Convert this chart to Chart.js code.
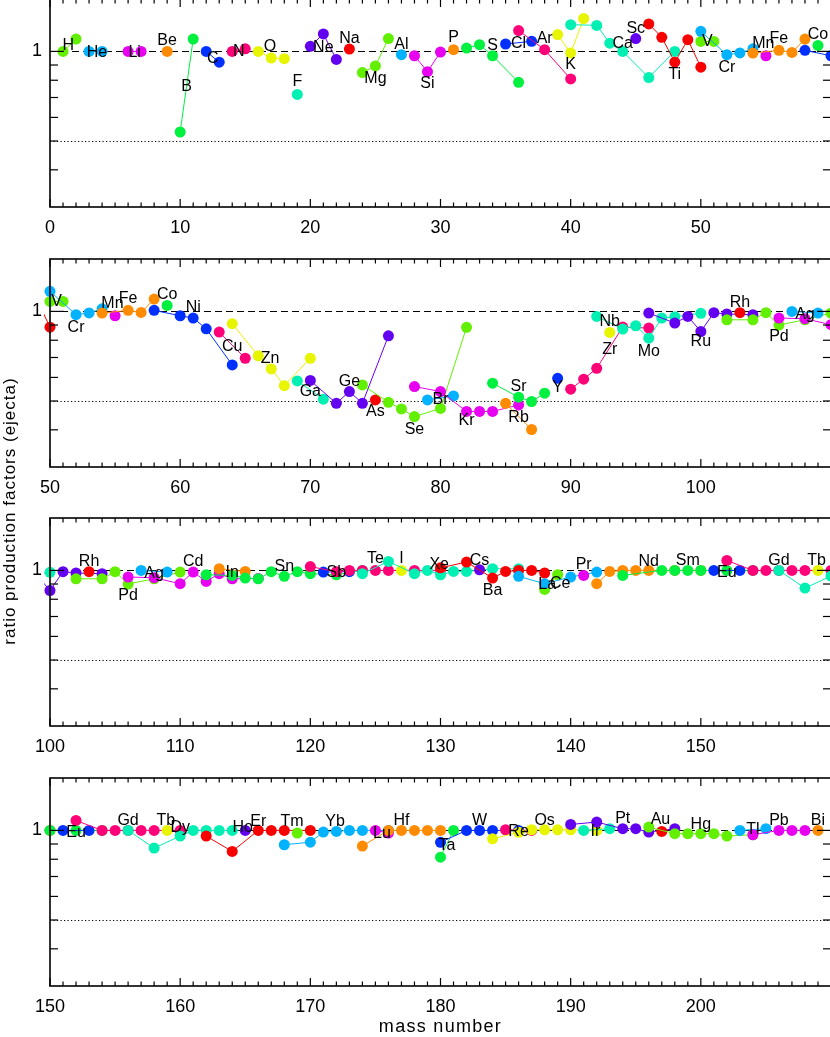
<!DOCTYPE html>
<html>
<head>
<meta charset="utf-8">
<script src="https://cdn.jsdelivr.net/npm/chart.js@4.4.1/dist/chart.umd.min.js"></script>
<style>
  html, body { margin: 0; padding: 0; background: #fff; width: 830px; height: 1037px; overflow: hidden; }
  canvas { position: absolute; left: 0; }
  #ytitle {
    position: absolute; left: -140px; top: 501px; width: 300px; line-height: 20px;
    text-align: center; transform: rotate(-90deg);
    font: 17px "Liberation Sans", Arial, sans-serif; letter-spacing: 1px; color: #000;
  }
</style>
</head>
<body>
<canvas id="p0" width="840" height="250" style="top:-11px"></canvas>
<canvas id="p1" width="840" height="250" style="top:249px"></canvas>
<canvas id="p2" width="840" height="250" style="top:508px"></canvas>
<canvas id="p3" width="840" height="269" style="top:768px"></canvas>
<div id="ytitle">ratio production factors (ejecta)</div>
<script>
// ---- data ----
const elements = ['H','He','Li','Be','B','C','N','O','F','Ne','Na','Mg','Al','Si','P','S','Cl','Ar','K','Ca',
  'Sc','Ti','V','Cr','Mn','Fe','Co','Ni','Cu','Zn','Ga','Ge','As','Se','Br','Kr','Rb','Sr','Y','Zr',
  'Nb','Mo','Ru','Rh','Pd','Ag','Cd','In','Sn','Sb','Te','I','Xe','Cs','Ba','La','Ce','Pr','Nd','Sm',
  'Eu','Gd','Tb','Dy','Ho','Er','Tm','Yb','Lu','Hf','Ta','W','Re','Os','Ir','Pt','Au','Hg','Tl','Pb','Bi'];

const isotopes = [
  [1,2],[3,4],[6,7],[9],[10,11],[12,13],[14,15],[16,17,18],[19],[20,21,22],
  [23],[24,25,26],[27],[28,29,30],[31],[32,33,34,36],[35,37],[36,38,40],[39,40,41],[40,42,43,44,46,48],
  [45],[46,47,48,49,50],[50,51],[50,52,53,54],[55],[54,56,57,58],[59],[58,60,61,62,64],[63,65],[64,66,67,68,70],
  [69,71],[70,72,73,74,76],[75],[74,76,77,78,80,82],[79,81],[78,80,82,83,84,86],[85,87],[84,86,87,88],[89],[90,91,92,94,96],
  [93],[92,94,95,96,97,98,100],[96,98,99,100,101,102,104],[103],[102,104,105,106,108,110],[107,109],
  [106,108,110,111,112,113,114,116],[113,115],[112,114,115,116,117,118,119,120,122,124],[121,123],
  [120,122,123,124,125,126,128,130],[127],[124,126,128,129,130,131,132,134,136],[133],[130,132,134,135,136,137,138],
  [138,139],[136,138,140,142],[141],[142,143,144,145,146,148,150],[144,147,148,149,150,152,154],
  [151,153],[152,154,155,156,157,158,160],[159],[156,158,160,161,162,163,164],[165],[162,164,166,167,168,170],
  [169],[168,170,171,172,173,174,176],[175,176],[174,176,177,178,179,180],
  [180,181],[180,182,183,184,186],[185,187],[184,186,187,188,189,190,192],[191,193],[190,192,194,195,196,198],
  [197],[196,198,199,200,201,202,204],[203,205],[204,206,207,208],[209]
];

const ratios = [
  [1.00,1.10],[1.00,1.00],[1.00,1.00],[1.00],[0.536,1.10],[1.00,0.92],[1.00,1.02],[1.00,0.95,0.945],[0.717],[1.04,1.145,0.94],
  [1.018],[0.849,0.894,1.104],[0.975],[0.967,0.855,0.995],[1.013],[1.026,1.053,0.967,0.787],[1.059,1.081],[1.175,1.013,0.808],
  [1.139,0.987,1.29],[1.23,1.223,1.066,1.00,0.817,1.00],
  [1.104],[1.237,1.115,0.92,1.095,0.885],[1.08,1.08],[1.168,0.975,0.988,1.02],[0.967],[0.987,1.008,0.992,1.10],[1.047],
  [1.008,0.967,0.95,0.874,0.661],[0.852,0.696],[0.909,0.709,0.641,0.563,0.696],
  [0.584,0.507],[0.586,0.491,0.538,0.491,0.828],[0.504],[0.566,0.495,0.470,0.443,0.472,0.884],[0.504,0.520],
  [0.559,0.538,0.461,0.461,0.461,0.485],[0.491,0.401],[0.574,0.515,0.498,0.531],[0.596],[0.548,0.592,0.644,0.886,0.879],
  [0.85],[0.962,0.872,0.895,0.813,0.95,0.96,0.985],[0.987,0.914,0.962,0.856,0.99,0.98,0.975],[0.99],
  [0.937,0.937,0.99,0.90,0.937,0.987],[1.00,0.987],[0.95,0.945,0.902,0.987,0.918,0.975,0.937,0.94],[1.013,0.992],
  [0.967,0.962,0.942,0.937,0.99,0.955,0.99,0.975,0.967,1.00],[0.987,0.99],
  [1.03,0.99,1.00,1.00,1.00,1.00,1.00,1.00],[1.00],[0.975,1.072,0.975,1.00,0.967,0.992,0.992,1.013,1.013],[1.005],
  [1.02,1.067,0.942,0.992,1.00,1.00,0.98],[0.863,0.967],[0.955,0.902,0.95,0.987],[0.962],
  [0.902,0.992,1.00,1.00,1.00,1.00,1.00],[0.962,1.00,1.00,1.00,1.00,1.00,1.00],
  [1.00,1.00],[1.08,1.00,1.00,1.00,1.00,1.00,1.00],[1.00],[1.00,0.872,0.957,1.00,1.00,1.00,1.00],[1.00],
  [0.957,0.85,1.00,1.00,1.00,1.00],[0.98],[0.895,0.913,0.987,0.992,1.00,1.00,1.00],[1.00,0.98],[0.886,1.00,1.00,1.00,1.00,1.00],
  [0.813,1.00],[0.912,1.00,1.00,1.00,1.00],[1.005,1.00],[0.937,0.985,1.005,1.005,1.005,1.005,1.00],[1.00,1.013],
  [1.047,1.067,1.013,1.013,0.987,1.013],[0.992],[1.026,0.975,0.975,0.975,0.975,0.957,0.967],[1.00,1.013],[0.967,1.00,1.00,1.00],[1.00]
];

// where each element name is written (mass number, ratio)
const labelMass = [1.4,3.6,6.5,9.0,10.5,12.5,14.5,16.9,19.0,21.0,23.0,25.0,27.0,29.0,31.0,34.0,36.0,38.0,40.0,44.0,
  45.0,48.0,50.5,52.0,54.8,56.0,59.0,61.0,64.0,66.9,70.0,73.0,75.0,78.0,80.0,82.0,86.0,86.0,89.0,93.0,
  93.0,96.0,100.0,103.0,106.0,108.0,111.0,114.0,118.0,122.0,125.0,127.0,129.9,133.0,134.0,138.2,139.2,141.0,146.0,149.0,
  152.0,156.0,158.9,160.0,164.8,166.0,168.6,171.9,175.5,177.0,180.5,183.0,186.0,188.0,191.9,194.0,196.9,200.0,204.0,206.0,209.0];
const labelRatio = [1.05,0.99,0.99,1.09,0.763,0.947,1.0,1.04,0.79,1.03,1.10,0.81,1.055,0.78,1.115,1.05,1.065,1.10,0.904,1.065,
  1.195,0.837,1.08,0.885,1.06,1.10,1.14,1.03,0.763,0.695,0.537,0.58,0.46,0.40,0.505,0.43,0.44,0.56,0.555,0.745,
  0.925,0.73,0.79,1.07,0.825,0.975,1.07,0.98,1.03,0.98,1.095,1.095,1.05,1.08,0.856,0.895,0.9,1.045,1.07,1.08,
  0.985,1.08,1.08,1.02,1.02,1.07,1.07,1.07,0.975,1.08,0.89,1.08,0.987,1.08,0.99,1.095,1.09,1.05,1.005,1.08,1.08];

const panelMin = [0, 50, 100, 150];
const panelSpan = 60;
const xMajorStep = 10;
const yMin = 0.3, yMax = 1.5;
const yMinorTicks = [0.4, 0.5, 0.6, 0.7, 0.8, 0.9];
const xTitle = 'mass number';

// colour cycle used for successive elements
const palette = ['#62f000','#00b2ff','#e800f0','#ff8c00','#00f040','#0030ff','#ff0078','#e8f500','#00f0b4','#6400f0','#f80000'];
const FONT = '"Liberation Sans", Arial, Helvetica, sans-serif';

const decor = {
  id: 'decor',
  beforeDatasetsDraw(chart) {
    const { ctx, chartArea: a, scales: { y } } = chart;
    ctx.save();
    ctx.beginPath();
    ctx.rect(a.left, a.top, a.right - a.left, a.bottom - a.top);
    ctx.clip();
    ctx.strokeStyle = '#000';
    ctx.lineWidth = 1.1;
    const hline = (v, dash) => {
      const py = Math.round(y.getPixelForValue(v)) + 0.5;
      ctx.setLineDash(dash);
      ctx.beginPath(); ctx.moveTo(a.left, py); ctx.lineTo(a.right, py); ctx.stroke();
    };
    hline(1, [7, 4]);
    hline(0.5, [1.2, 2.3]);
    ctx.restore();
  },
  afterDatasetsDraw(chart) {
    const { ctx, scales: { x, y } } = chart;
    ctx.save();
    ctx.font = '16px ' + FONT;
    ctx.textAlign = 'center';
    ctx.textBaseline = 'middle';
    ctx.fillStyle = '#000';
    elements.forEach((el, i) => {
      if (labelMass[i] > x.min && labelMass[i] < x.max) {
        ctx.fillText(el, x.getPixelForValue(labelMass[i]), y.getPixelForValue(labelRatio[i]));
      }
    });
    ctx.restore();
  },
  afterDraw(chart) {
    const { ctx, chartArea: a, scales: { x, y } } = chart;
    ctx.save();
    ctx.strokeStyle = '#000';
    ctx.lineWidth = 1.2;
    const seg = (x0, y0, x1, y1) => { ctx.beginPath(); ctx.moveTo(x0, y0); ctx.lineTo(x1, y1); ctx.stroke(); };
    for (let m = Math.ceil(x.min); m <= x.max; m++) {
      const px = x.getPixelForValue(m);
      const len = m % xMajorStep === 0 ? 8 : 4.5;
      seg(px, a.bottom, px, a.bottom - len);
      seg(px, a.top, px, a.top + len);
    }
    yMinorTicks.forEach(v => {
      const py = y.getPixelForValue(v);
      seg(a.left, py, a.left + 8, py);
      seg(a.right, py, a.right - 8, py);
    });
    const p1 = y.getPixelForValue(1);
    seg(a.left, p1, a.left + 14, p1);
    seg(a.right, p1, a.right - 14, p1);
    ctx.lineWidth = 1.6;
    ctx.strokeRect(a.left, a.top, a.right - a.left, a.bottom - a.top);
    // axis title with the wide letter spacing of the original
    if (chart.options.showXTitle) {
      ctx.fillStyle = '#000';
      ctx.font = '18px ' + FONT;
      ctx.letterSpacing = '1.3px';
      ctx.textAlign = 'center';
      ctx.textBaseline = 'middle';
      ctx.fillText(xTitle, (a.left + a.right) / 2, chart.height - 10);
    }
    ctx.restore();
  }
};

function makePanel(id, k) {
  const lo = panelMin[k], hi = lo + panelSpan;
  const last = k === panelMin.length - 1;
  const majors = [];
  for (let v = lo; v < hi; v += xMajorStep) majors.push(v);
  return new Chart(document.getElementById(id), {
    type: 'scatter',
    data: {
      datasets: elements.map((el, i) => {
        const col = palette[i % palette.length];
        return {
          label: el,
          data: isotopes[i].map((m, j) => ({ x: m, y: ratios[i][j] })),
          showLine: true,
          borderColor: col,
          backgroundColor: col,
          borderWidth: 1,
          pointRadius: 5.5,
          pointHoverRadius: 5.5,
          pointBorderWidth: 0,
          order: elements.length - i,
          clip: 6
        };
      })
    },
    options: {
      responsive: false,
      animation: false,
      events: [],
      showXTitle: last,
      layout: { padding: { top: 10, right: 9, left: 0, bottom: 0 } },
      plugins: { legend: { display: false }, tooltip: { enabled: false } },
      scales: {
        x: {
          type: 'linear', min: lo, max: hi,
          grid: { display: false, drawTicks: false },
          border: { display: false },
          afterBuildTicks: s => { s.ticks = majors.map(v => ({ value: v })); },
          afterFit: s => { s.height = last ? 51 : 32; s.paddingLeft = 0; s.paddingRight = 0; },
          ticks: { color: '#000', font: { size: 18, family: FONT }, padding: 10, maxRotation: 0, autoSkip: false,
                   callback: v => String(v) }
        },
        y: {
          type: 'logarithmic', min: yMin, max: yMax,
          grid: { display: false, drawTicks: false },
          border: { display: false },
          afterBuildTicks: s => { s.ticks = [{ value: 1 }]; },
          afterFit: s => { s.width = 50; s.paddingTop = 0; s.paddingBottom = 0; },
          ticks: { color: '#000', font: { size: 18, family: FONT }, padding: 8,
                   callback: v => (v === 1 ? '1' : '') }
        }
      }
    },
    plugins: [decor]
  });
}

['p0', 'p1', 'p2', 'p3'].forEach((id, k) => makePanel(id, k));
</script>
</body>
</html>
